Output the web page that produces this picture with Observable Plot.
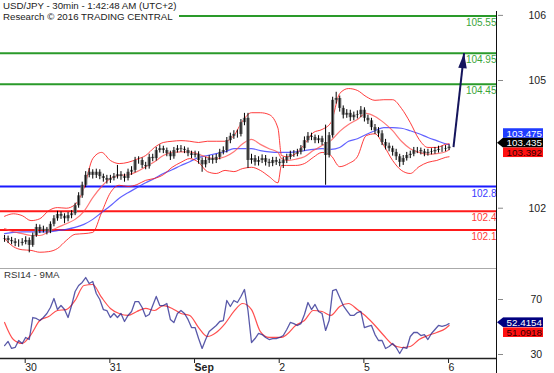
<!DOCTYPE html>
<html><head><meta charset="utf-8">
<script src="https://cdn.jsdelivr.net/npm/d3@7"></script>
<script src="https://cdn.jsdelivr.net/npm/@observablehq/plot@0.6"></script>
<style>
html,body{margin:0;padding:0;background:#fff;}
#wrap{position:relative;width:554px;height:373px;overflow:hidden;font-family:"Liberation Sans",Arial,sans-serif;}
#main,#rsi{position:absolute;left:0;}
#main{top:0;}
#rsi{top:266px;}
#title{position:absolute;left:0;top:0;background:#fff;padding:0 3px 2px 3px;font-size:9.7px;line-height:11px;color:#222;white-space:nowrap;}
#rsiLabel{position:absolute;left:4px;top:269px;font-size:9.7px;line-height:11px;color:#333;}
#vline{position:absolute;left:496px;top:11px;width:1px;height:362px;background:#111;}
</style></head>
<body><div id="wrap">
<div id="main"></div><div id="rsi"></div>
<div id="vline"></div>
<div id="title">USD/JPY - 30min - 1:42:48 AM (UTC+2)<br>Research © 2016 TRADING CENTRAL</div>
<div id="rsiLabel">RSI14 - 9MA</div>
</div>
<script>
// ---------- DATA ----------
// half-hour bar index: 0 = start of day "30"; bars sampled every 2 periods from -10 to 242
const barStart = -10, barStep = 2, firstOpen = 101.95;
const closes = [101.96,101.93,101.91,101.88,101.88,101.90,101.93,101.85,102.01,102.14,
102.09,102.11,102.07,102.19,102.28,102.35,102.32,102.28,102.33,102.36,
102.49,102.65,102.82,102.98,103.03,102.98,103.03,102.96,102.93,102.90,
102.93,102.96,102.99,102.96,102.93,103.03,103.06,103.22,103.22,103.14,
103.12,103.27,103.25,103.38,103.41,103.38,103.33,103.28,103.38,103.41,
103.40,103.38,103.33,103.30,103.32,103.22,103.15,103.22,103.25,103.22,
103.27,103.35,103.38,103.54,103.61,103.64,103.64,103.83,103.90,103.22,
103.25,103.19,103.22,103.25,103.19,103.17,103.22,103.19,103.17,103.22,
103.27,103.32,103.32,103.35,103.41,103.54,103.61,103.59,103.54,103.57,
103.51,103.30,103.62,104.19,104.22,104.06,103.95,103.98,103.91,103.95,
103.96,104.03,103.90,103.86,103.75,103.70,103.65,103.51,103.45,103.41,
103.35,103.28,103.19,103.25,103.30,103.32,103.38,103.38,103.36,103.33,
103.35,103.36,103.38,103.40,103.40,103.41,103.435];
const highs = [102.01,102.00,101.98,101.96,101.94,101.96,101.99,101.97,102.05,102.19,
102.18,102.16,102.14,102.23,102.33,102.40,102.39,102.36,102.38,102.41,
102.53,102.70,102.87,103.04,103.09,103.07,103.08,103.07,103.00,102.98,
102.98,103.01,103.14,103.04,103.00,103.08,103.12,103.27,103.28,103.26,
103.19,103.32,103.32,103.43,103.47,103.45,103.42,103.37,103.43,103.46,
103.46,103.44,103.42,103.37,103.37,103.36,103.26,103.27,103.30,103.30,
103.32,103.40,103.44,103.59,103.66,103.70,103.71,103.88,103.98,103.98,
103.32,103.30,103.28,103.31,103.30,103.24,103.27,103.27,103.24,103.27,
103.32,103.37,103.38,103.40,103.46,103.60,103.67,103.66,103.63,103.62,
103.61,103.79,103.67,104.24,104.32,104.26,104.10,104.04,104.03,104.00,
104.02,104.09,104.07,103.95,103.90,103.80,103.75,103.70,103.56,103.50,
103.45,103.40,103.32,103.30,103.35,103.37,103.43,103.43,103.42,103.40,
103.40,103.41,103.43,103.45,103.45,103.46,103.47];
const lows = [101.90,101.88,101.86,101.83,101.82,101.84,101.86,101.73,101.82,101.98,
102.04,102.05,102.02,102.04,102.15,102.24,102.27,102.20,102.23,102.28,
102.33,102.45,102.61,102.78,102.94,102.92,102.93,102.91,102.87,102.84,
102.85,102.89,102.92,102.90,102.87,102.89,102.98,103.02,103.16,103.09,
103.07,103.08,103.20,103.21,103.34,103.33,103.28,103.22,103.24,103.34,
103.35,103.33,103.28,103.25,103.26,103.16,103.03,103.10,103.17,103.16,
103.17,103.23,103.31,103.34,103.49,103.56,103.58,103.60,103.78,103.09,
103.16,103.13,103.13,103.17,103.13,103.11,103.12,103.14,103.12,103.09,
103.17,103.23,103.27,103.28,103.31,103.37,103.50,103.54,103.49,103.49,
103.46,102.82,103.26,103.58,104.13,104.00,103.89,103.90,103.85,103.86,
103.89,103.91,103.84,103.80,103.70,103.64,103.59,103.46,103.39,103.36,
103.29,103.22,103.11,103.14,103.21,103.25,103.28,103.33,103.31,103.28,
103.29,103.31,103.32,103.34,103.35,103.36,103.38];

// Bollinger bands and moving average, read at these bar indices
const bandT = [-10,-5,0,5,10,15,20,25,30,35,40,45,50,55,60,65,70,75,80,85,90,95,100,105,110,115,120,125,130,135,140,145,147,150,155,160,165,170,175,180,185,190,195,200,205,210,215,220,225,230,235,240,242];
const bandUpper = [102.32,102.36,102.33,102.25,102.28,102.41,102.46,102.45,102.51,102.77,
103.25,103.35,103.22,103.17,103.19,103.24,103.30,103.43,103.51,103.53,
103.54,103.53,103.51,103.53,103.53,103.53,103.62,103.86,103.99,103.99,
103.96,103.74,103.30,103.28,103.33,103.48,103.67,103.72,103.83,104.30,
104.38,104.35,104.25,104.19,104.20,104.20,104.06,103.83,103.56,103.43,
103.43,103.48,103.49];
const bandMiddle = [102.12,102.07,102.04,102.01,102.01,102.07,102.14,102.20,102.27,102.40,
102.62,102.80,102.93,102.98,102.99,103.04,103.12,103.20,103.30,103.35,
103.36,103.36,103.32,103.27,103.25,103.28,103.36,103.49,103.56,103.48,
103.41,103.35,103.25,103.22,103.24,103.28,103.38,103.46,103.54,103.69,
103.80,103.88,103.98,103.93,103.83,103.70,103.53,103.41,103.35,103.32,
103.33,103.36,103.392];
const bandLower = [101.96,101.83,101.78,101.77,101.74,101.75,101.80,101.93,102.03,102.04,
102.06,102.38,102.70,102.82,102.80,102.83,102.90,102.93,102.99,103.11,
103.19,103.25,103.19,103.04,103.01,103.06,103.04,103.09,103.11,103.06,
102.96,102.86,103.14,103.14,103.14,103.17,103.27,103.35,103.30,103.12,
103.17,103.28,103.62,103.65,103.46,103.22,103.06,103.01,103.12,103.19,
103.22,103.27,103.28];
const maLine = [102.04,102.06,102.07,102.07,102.07,102.07,102.09,102.11,102.14,102.19,
102.27,102.38,102.49,102.61,102.70,102.78,102.86,102.93,103.01,103.07,
103.14,103.20,103.27,103.30,103.33,103.36,103.41,103.41,103.41,103.38,
103.36,103.35,103.35,103.35,103.36,103.38,103.40,103.41,103.40,103.43,
103.53,103.57,103.64,103.70,103.75,103.75,103.74,103.70,103.65,103.59,
103.54,103.49,103.475];

// RSI(14) at bar indices (same grid as bars) and its 9MA at bandT
const rsiValues = [36.5,39.5,34.4,35.1,40.2,38.0,42.4,40.9,56.9,56.2,
54.7,56.9,59.8,64.2,70.7,62.7,65.6,62.7,56.9,65.6,
75.8,80.2,82.4,86.0,81.6,83.1,74.4,70.0,62.7,62.0,
56.9,59.8,56.9,59.8,54.0,58.4,61.3,68.5,68.5,64.2,
57.6,59.1,65.6,72.2,65.6,65.6,67.1,55.5,53.3,59.8,
62.0,59.8,55.5,49.6,49.6,41.6,34.4,40.9,46.7,48.9,
51.1,54.0,54.7,69.3,64.9,69.3,67.8,72.2,77.3,62.0,
38.7,41.6,45.3,44.5,42.4,40.9,41.6,41.6,42.4,43.8,
48.2,53.3,52.5,51.1,52.5,59.1,67.8,62.7,66.4,61.3,
59.8,47.5,54.7,76.5,77.3,71.5,65.6,62.0,58.4,58.4,
60.5,61.3,49.6,50.4,51.1,44.5,40.2,40.2,34.4,35.8,
38.0,35.1,30.7,35.1,34.4,43.1,46.0,46.0,43.8,44.5,
40.9,45.3,48.2,51.1,50.4,51.1,52.4154];
const rsiMA = [53.3,40.9,38.0,44.5,54.7,57.6,62.0,62.7,69.3,80.2,
80.9,71.5,63.5,59.8,58.4,61.3,63.5,62.0,65.6,63.5,
59.8,58.4,49.6,43.1,46.0,52.5,61.3,67.1,62.7,46.7,
42.4,42.4,42.4,44.5,51.1,54.7,62.0,61.3,58.4,64.9,
67.1,62.7,57.6,51.1,43.8,37.3,35.1,35.8,40.9,43.8,
46.0,48.9,51.0918];

// key levels
const levelValues = [105.55, 104.95, 104.45, 102.8, 102.4, 102.1];
const levelLabels = ["105.55","104.95","104.45","102.8","102.4","102.1"];
const levelKinds = ["res","res","res","pivot","sup","sup"];

// scenario arrow (bar index, price)
const arrowT = [244.5, 250.5];
const arrowPrice = [103.435, 104.95];

// last values
const lastPrice = 103.435, lastMA = 103.475, lastMid = 103.392;
const lastRSI = 52.4154, lastRSIMA = 51.0918;

// axis ticks
const dayTicks = [0, 48, 96, 144, 192, 240];
const dayLabels = ["30", "31", "Sep", "2", "5", "6"];
const priceTickPos = [105.56, 104.51, 102.45];
const priceTickLabels = ["106", "105", "102"];
const rsiTicks = [70, 30];

// ---------- BUILD ----------
const FONT = "Liberation Sans, Arial, sans-serif";
const bars = closes.map((c, i) => ({t: barStart + barStep * i, o: i ? closes[i - 1] : firstOpen, c, hi: highs[i], lo: lows[i]}));
const bands = bandT.map((t, i) => ({t, upper: bandUpper[i], middle: bandMiddle[i], lower: bandLower[i], ma: maLine[i], rma: rsiMA[i]}));
const rsiData = rsiValues.map((v, i) => ({t: barStart + barStep * i, v}));
const levels = levelValues.map((v, i) => ({v, label: levelLabels[i], kind: levelKinds[i]}));
const lineColor = {res: "#2a9a2a", pivot: "#1a1aff", sup: "#ff1a1a"};
const textColor = {res: "#3aa53a", pivot: "#3a3aff", sup: "#ff3a3a"};
const priceTickMap = new Map(priceTickPos.map((p, i) => [p, priceTickLabels[i]]));
const dayMap = new Map(dayTicks.map((d, i) => [d, dayLabels[i]]));
const xDomain = [-12.3, 269.45];

const headSymbol = {draw(ctx) { ctx.moveTo(0, 0); ctx.lineTo(4.3, 15); ctx.lineTo(-4.3, 15); ctx.closePath(); }};

const levelMarks = [];
for (const k of ["res", "pivot", "sup"]) {
  const sub = levels.filter(d => d.kind === k);
  levelMarks.push(Plot.ruleY(sub, {y: "v", stroke: lineColor[k], strokeWidth: 2}));
  levelMarks.push(Plot.text(sub, {y: "v", text: "label", frameAnchor: "right", textAnchor: "end", lineAnchor: "top", dx: -1, dy: 3, fill: textColor[k], fontSize: 10}));
}

const main = Plot.plot({
  width: 554, height: 266,
  marginTop: 0, marginBottom: 0, marginLeft: 0, marginRight: 57,
  x: {domain: xDomain, axis: null},
  y: {domain: [101.51, 105.8]},
  style: {fontFamily: FONT, fontSize: "10.5px", background: "transparent", color: "#222", overflow: "visible"},
  marks: [
    ...levelMarks,
    Plot.line(bands, {x: "t", y: "ma", stroke: "#3a3aff", strokeOpacity: 0.8, strokeWidth: 1.2, curve: "monotone-x"}),
    Plot.line(bands, {x: "t", y: "middle", stroke: "#ff4a4a", strokeOpacity: 0.75, strokeWidth: 1.2, curve: "monotone-x"}),
    Plot.line(bands, {x: "t", y: "upper", stroke: "#ff1a1a", strokeOpacity: 0.85, strokeWidth: 1, curve: "monotone-x"}),
    Plot.line(bands, {x: "t", y: "lower", stroke: "#ff1a1a", strokeOpacity: 0.85, strokeWidth: 1, curve: "monotone-x"}),
    Plot.ruleX(bars, {x: "t", y1: "o", y2: "c", stroke: "#7a7a7a", strokeWidth: 3.3}),
    Plot.ruleX(bars, {x: "t", y1: "lo", y2: "hi", stroke: "#000", strokeWidth: 1}),
    Plot.link([{x1: arrowT[0], y1: arrowPrice[0], x2: arrowT[1], y2: arrowPrice[1]}], {x1: "x1", y1: "y1", x2: "x2", y2: "y2", stroke: "#15155c", strokeWidth: 2}),
    Plot.dot([{t: arrowT[1], p: arrowPrice[1]}], {x: "t", y: "p", symbol: headSymbol, r: 5, fill: "#15155c", rotate: 6}),
    Plot.axisY(priceTickPos, {anchor: "right", tickSize: 5, tickPadding: 26, stroke: "#888", fill: "#222", fontSize: 10.5, label: null, tickFormat: d => priceTickMap.get(d)})
  ]
});
document.getElementById("main").appendChild(main);

const rsiTop = 92.55, rsiBottom = 27.09;
const rsiPlot = Plot.plot({
  width: 554, height: 107,
  marginTop: 2, marginBottom: 15, marginLeft: 0, marginRight: 57,
  x: {domain: xDomain},
  y: {domain: [rsiBottom, rsiTop]},
  style: {fontFamily: FONT, fontSize: "10.5px", background: "transparent", color: "#222", overflow: "visible"},
  marks: [
    Plot.ruleY([rsiTop], {stroke: "#aaa"}),
    Plot.line(bands, {x: "t", y: "rma", stroke: "#ff3030", strokeOpacity: 0.85, strokeWidth: 1.2, curve: "monotone-x"}),
    Plot.line(rsiData, {x: "t", y: "v", stroke: "#22228c", strokeOpacity: 0.75, strokeWidth: 1.3}),
    Plot.ruleY([rsiBottom], {stroke: "#222", strokeWidth: 1.3}),
    Plot.axisY(rsiTicks, {anchor: "right", tickSize: 5, tickPadding: 28, stroke: "#888", fill: "#222", fontSize: 10.5, label: null}),
    Plot.axisX(dayTicks.filter(d => dayMap.get(d) !== "Sep"), {anchor: "bottom", tickSize: 5, tickPadding: 0, textAnchor: "start", dx: 3, stroke: "#222", fill: "#222", fontSize: 10.5, label: null, tickFormat: d => dayMap.get(d)}),
    Plot.axisX(dayTicks.filter(d => dayMap.get(d) === "Sep"), {anchor: "bottom", tickSize: 5, tickPadding: 0, textAnchor: "start", dx: 3, stroke: "#222", fill: "#222", fontSize: 10.5, fontWeight: "bold", label: null, tickFormat: d => dayMap.get(d)})
  ]
});
document.getElementById("rsi").appendChild(rsiPlot);

// value tags on the right axis, placed with the plots' own y scales
function tag(svg, cy, label, bg, fg, pointer) {
  const g = d3.select(svg).append("g").attr("font-family", FONT).attr("font-size", 9.8);
  const x0 = 503, x1 = 543, h = 9.6;
  g.append("rect").attr("x", x0).attr("y", cy - h / 2).attr("width", x1 - x0).attr("height", h).attr("fill", bg);
  if (pointer) g.append("path").attr("d", `M497,${cy}L${x0},${cy - h / 2}L${x0},${cy + h / 2}Z`).attr("fill", bg);
  g.append("text").attr("x", x1 - 1).attr("y", cy).attr("dy", "0.36em").attr("text-anchor", "end").attr("fill", fg).text(label);
}
const yMain = main.scale("y");
const cPrice = yMain.apply(lastPrice) - 4;
tag(main, cPrice - 9.6, lastMA.toFixed(3), "#1f3cff", "#fff", false);
tag(main, cPrice, lastPrice.toFixed(3), "#000", "#fff", true);
tag(main, cPrice + 9.6, lastMid.toFixed(3), "#ff1010", "#300", false);
const yRsi = rsiPlot.scale("y");
const cRsi = yRsi.apply(lastRSI) - 1;
tag(rsiPlot, cRsi, lastRSI.toFixed(4), "#000080", "#fff", true);
tag(rsiPlot, cRsi + 10, lastRSIMA.toFixed(4), "#ff1010", "#300", false);
</script>
</body></html>
